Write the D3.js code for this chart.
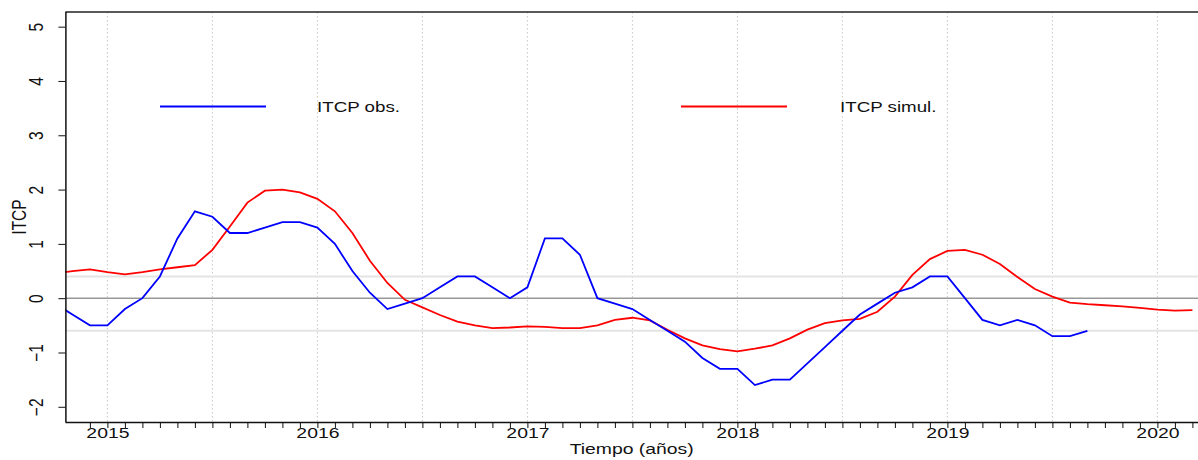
<!DOCTYPE html>
<html>
<head>
<meta charset="utf-8">
<script src="https://cdn.jsdelivr.net/npm/d3@7"></script>
<style>
body { margin: 0; background: #fff; }
text { font-family: "Liberation Sans", Arial, sans-serif; fill: #111; }
</style>
</head>
<body>
<svg></svg>
<script>
// SVG
var width = 1198;
var height = 460;
var plotLeft = 65.4, plotRight = 1199.4, plotTop = 12, plotBottom = 422;
var stretch = 1.25; // text in the original is widened horizontally

// Data: monthly, first value = Oct 2014 (month index -3, Jan 2015 = 0)
var firstMonth = -3;
var obsValues = [-0.1, -0.3, -0.5, -0.5, -0.2, 0.0, 0.4, 1.1, 1.6, 1.5, 1.2, 1.2,
    1.3, 1.4, 1.4, 1.3, 1.0, 0.5, 0.1, -0.2, -0.1, 0.0, 0.2, 0.4,
    0.4, 0.2, 0.0, 0.2, 1.1, 1.1, 0.8, 0.0, -0.1, -0.2, -0.4, -0.6,
    -0.8, -1.1, -1.3, -1.3, -1.6, -1.5, -1.5, -1.2, -0.9, -0.6, -0.3, -0.1,
    0.1, 0.2, 0.4, 0.4, 0.0, -0.4, -0.5, -0.4, -0.5, -0.7, -0.7, -0.6];
var simValues = [0.45, 0.50, 0.53, 0.48, 0.44, 0.48, 0.53, 0.57, 0.61, 0.89, 1.32, 1.76,
    1.98, 2.00, 1.95, 1.83, 1.60, 1.20, 0.69, 0.28, -0.03, -0.17, -0.31, -0.43,
    -0.50, -0.55, -0.54, -0.52, -0.53, -0.55, -0.55, -0.50, -0.40, -0.36, -0.41, -0.58,
    -0.74, -0.87, -0.94, -0.98, -0.93, -0.87, -0.74, -0.58, -0.46, -0.41, -0.38, -0.25,
    0.03, 0.43, 0.72, 0.87, 0.89, 0.80, 0.63, 0.39, 0.17, 0.03, -0.08, -0.11,
    -0.13, -0.15, -0.18, -0.21, -0.23, -0.22];
var yTicks = [-2, -1, 0, 1, 2, 3, 4, 5];
var refLines = [0.4, -0.6];
var seriesNames = ["ITCP obs.", "ITCP simul."];
var seriesColors = ["#0000ff", "#ff0000"];

var obs = obsValues.map((v, i) => ({ m: firstMonth + i, v: v }));
var sim = simValues.map((v, i) => ({ m: firstMonth + i, v: v }));

// Scales (x in months since Jan 2015)
var xScale = d3.scaleLinear().domain([-2.4, 62.4]).range([plotLeft, plotRight]);
var yScale = d3.scaleLinear().domain([-2.28, 5.27]).range([plotBottom, plotTop]);

var svg = d3.select("svg").attr("width", width).attr("height", height);

svg.append("clipPath").attr("id", "plot")
  .append("rect").attr("x", plotLeft).attr("y", plotTop)
  .attr("width", width - plotLeft).attr("height", plotBottom - plotTop);

// vertical dotted grid every half year
svg.append("g").selectAll("line")
  .data(d3.range(0, 61, 6))
  .join("line")
  .attr("x1", d => xScale(d)).attr("x2", d => xScale(d))
  .attr("y1", plotTop).attr("y2", plotBottom)
  .attr("stroke", "#c8c8c8").attr("stroke-width", 1)
  .attr("stroke-dasharray", "1.5,2.5");

// light reference bands
svg.append("g").selectAll("line")
  .data(refLines)
  .join("line")
  .attr("x1", plotLeft).attr("x2", width)
  .attr("y1", d => yScale(d)).attr("y2", d => yScale(d))
  .attr("stroke", "#e4e4e4").attr("stroke-width", 2);

// zero line
svg.append("line")
  .attr("x1", plotLeft).attr("x2", width)
  .attr("y1", yScale(0)).attr("y2", yScale(0))
  .attr("stroke", "#666").attr("stroke-width", 1);

// lines
var line = d3.line().x(d => xScale(d.m)).y(d => yScale(d.v));
var g = svg.append("g").attr("clip-path", "url(#plot)");
g.append("path").attr("d", line(sim))
  .attr("fill", "none").attr("stroke", seriesColors[1]).attr("stroke-width", 1.8);
g.append("path").attr("d", line(obs))
  .attr("fill", "none").attr("stroke", seriesColors[0]).attr("stroke-width", 1.8);

// top border
svg.append("line")
  .attr("x1", plotLeft).attr("x2", width).attr("y1", plotTop).attr("y2", plotTop)
  .attr("stroke", "#222").attr("stroke-width", 1.5);

// x axis: monthly ticks, year labels
var xAxis = d3.axisBottom(xScale)
  .tickValues(d3.range(-1, 63))
  .tickSize(6)
  .tickSizeOuter(0)
  .tickFormat(d => d % 12 === 0 ? String(2015 + d / 12) : "");
var gx = svg.append("g")
  .attr("transform", "translate(0," + plotBottom + ")")
  .call(xAxis);
gx.select(".domain").attr("d", "M" + plotLeft + ",0.5H" + width).attr("stroke", "#111").attr("stroke-width", 1.5);
gx.selectAll(".tick line").attr("stroke", "#111");
gx.selectAll(".tick text")
  .attr("font-size", 15.5).attr("font-family", null)
  .attr("y", 16.5).attr("dy", null)
  .attr("transform", "scale(" + stretch + ",1)");

// y axis
var yAxis = d3.axisLeft(yScale)
  .tickValues(yTicks)
  .tickSize(7)
  .tickSizeOuter(0)
  .tickFormat(d3.format("d"));
var gy = svg.append("g")
  .attr("transform", "translate(" + plotLeft + ",0)")
  .call(yAxis);
gy.select(".domain").attr("d", "M0.5," + plotTop + "V" + plotBottom).attr("stroke", "#111").attr("stroke-width", 1.5);
gy.selectAll(".tick line").attr("stroke", "#111");
gy.selectAll(".tick text")
  .attr("font-size", 15.5).attr("font-family", null)
  .attr("x", null).attr("dy", null)
  .attr("text-anchor", "middle")
  .attr("transform", "translate(-22,0) scale(" + stretch + ",1) rotate(-90)");

// axis titles
svg.append("text")
  .attr("transform", "translate(" + ((plotLeft + width) / 2) + ",454) scale(" + stretch + ",1)")
  .attr("text-anchor", "middle").attr("font-size", 15.5)
  .text("Tiempo (años)");
svg.append("text")
  .attr("transform", "translate(26," + ((plotTop + plotBottom) / 2) + ") scale(" + stretch + ",1) rotate(-90)")
  .attr("text-anchor", "middle").attr("font-size", 15.5)
  .text("ITCP");

// legend
var legendX = [[160, 266, 317], [681, 787, 840]];
var legend = svg.append("g");
seriesNames.forEach(function (name, i) {
  legend.append("line")
    .attr("x1", legendX[i][0]).attr("x2", legendX[i][1])
    .attr("y1", 106.5).attr("y2", 106.5)
    .attr("stroke", seriesColors[i]).attr("stroke-width", 1.8);
  legend.append("text")
    .attr("transform", "translate(" + legendX[i][2] + ",111.5) scale(" + stretch + ",1)")
    .attr("font-size", 15)
    .text(name);
});
</script>
</body>
</html>
